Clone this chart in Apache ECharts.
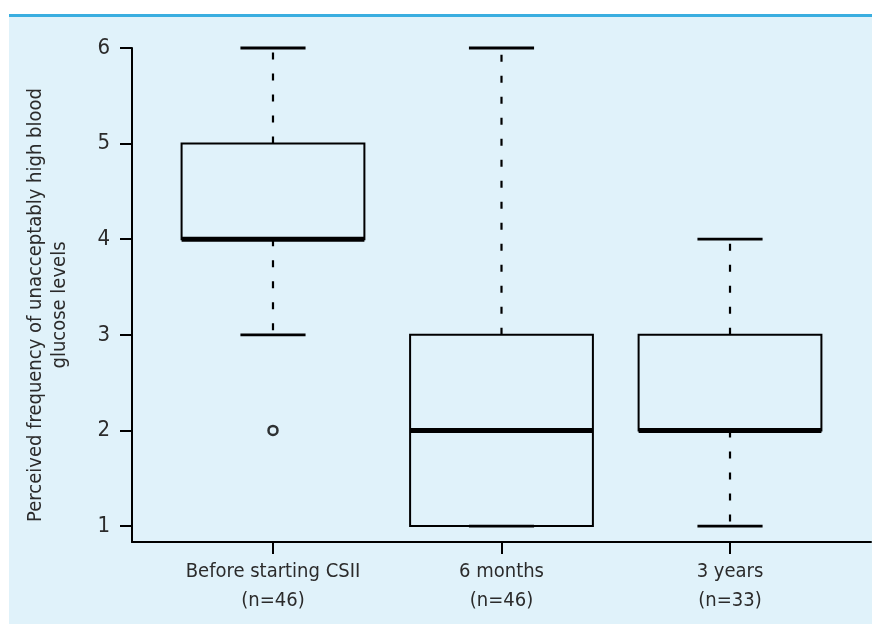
<!DOCTYPE html>
<html>
<head>
<meta charset="utf-8">
<title>Perceived frequency of unacceptably high blood glucose levels</title>
<script src="https://cdn.jsdelivr.net/npm/echarts@6/dist/echarts.min.js"></script>
<style>
  html, body { margin: 0; padding: 0; background: #ffffff; }
  #chart { width: 872px; height: 624px; }
</style>
</head>
<body>
<div id="chart"></div>
<script>
// Groups shown along the x axis (placed at x = 1, 2, 3)
const categories = ['Before starting CSII\n(n=46)', '6 months\n(n=46)', '3 years\n(n=33)'];
const positions = [1, 2, 3];

// Five-number summaries per group
const whiskerLow = [3, 1, 1];
const quartile1 = [4, 1, 2];
const medians = [4, 2, 2];
const quartile3 = [5, 3, 3];
const whiskerHigh = [6, 6, 4];

// Outlying observations: [group position, value]
const outliers = [[1, 2]];

// Y axis tick labels
const yTicks = [1, 2, 3, 4, 5, 6];

const FONT = '"Liberation Sans Narrow", "DejaVu Sans Condensed", "Open Sans", sans-serif';
const INK = '#000000';
const TEXT = '#2b2b2b';

const boxData = positions.map((p, i) => [p, whiskerLow[i], quartile1[i], medians[i], quartile3[i], whiskerHigh[i]]);

const BOX_W = 0.8;     // box width in x-axis units
const CAP_W = 0.285;   // whisker cap width in x-axis units

function renderBox(params, api) {
  const x = api.value(0);
  const lo = api.value(1), q1 = api.value(2), md = api.value(3), q3 = api.value(4), hi = api.value(5);
  const pL = api.coord([x - BOX_W / 2, q3]);
  const pR = api.coord([x + BOX_W / 2, q1]);
  const cL = api.coord([x - CAP_W / 2, hi])[0];
  const cR = api.coord([x + CAP_W / 2, hi])[0];
  const cx = api.coord([x, md])[0];
  const yLo = api.coord([x, lo])[1];
  const yQ1 = api.coord([x, q1])[1];
  const yMd = api.coord([x, md])[1];
  const yQ3 = api.coord([x, q3])[1];
  const yHi = api.coord([x, hi])[1];
  const dash = { stroke: INK, lineWidth: 2.2, lineDash: [7, 14], lineCap: 'butt' };
  const solid = { stroke: INK, lineWidth: 2.8, lineCap: 'butt' };
  const children = [];
  if (yHi !== yQ3) {
    children.push({ type: 'line', shape: { x1: cx, y1: yQ3, x2: cx, y2: yHi }, style: dash });
  }
  if (yLo !== yQ1) {
    children.push({ type: 'line', shape: { x1: cx, y1: yQ1, x2: cx, y2: yLo }, style: dash });
  }
  children.push({ type: 'line', shape: { x1: cL, y1: yHi, x2: cR, y2: yHi }, style: solid });
  children.push({ type: 'line', shape: { x1: cL, y1: yLo, x2: cR, y2: yLo }, style: solid });
  children.push({
    type: 'rect',
    shape: { x: pL[0], y: yQ3, width: pR[0] - pL[0], height: yQ1 - yQ3 },
    style: { fill: 'none', stroke: INK, lineWidth: 2 }
  });
  children.push({ type: 'line', shape: { x1: pL[0], y1: yMd, x2: pR[0], y2: yMd }, style: { stroke: INK, lineWidth: 5, lineCap: 'butt' } });
  return { type: 'group', children: children };
}

const chart = echarts.init(document.getElementById('chart'), null, { renderer: 'canvas' });

chart.setOption({
  animation: false,
  backgroundColor: '#ffffff',
  textStyle: { fontFamily: FONT },
  graphic: [
    { type: 'rect', z: -10, shape: { x: 9, y: 14, width: 863, height: 610 }, style: { fill: '#e0f2fa' } },
    { type: 'rect', z: -9, shape: { x: 9, y: 14, width: 863, height: 3 }, style: { fill: '#3aaee0' } }
  ],
  grid: { left: 132, top: 48, right: 1, bottom: 82, containLabel: false },
  xAxis: {
    type: 'value',
    min: 0.383,
    max: 3.617,
    splitLine: { show: false },
    axisLine: { show: true, onZero: false, lineStyle: { color: INK, width: 2 } },
    axisTick: { show: true, length: 12, customValues: positions, lineStyle: { color: INK, width: 2 } },
    axisLabel: {
      customValues: positions,
      margin: 15,
      color: TEXT,
      fontFamily: FONT,
      fontSize: 20,
      lineHeight: 29,
      formatter: v => categories[positions.indexOf(Math.round(v))] || ''
    }
  },
  yAxis: {
    type: 'value',
    min: 0.833,
    max: 6,
    splitLine: { show: false },
    axisLine: { show: true, onZero: false, lineStyle: { color: INK, width: 2 } },
    axisTick: { show: true, length: 12, customValues: yTicks, lineStyle: { color: INK, width: 2 } },
    axisLabel: { customValues: yTicks, margin: 22, color: TEXT, fontFamily: FONT, fontSize: 22 },
    name: 'Perceived frequency of unacceptably high blood\nglucose levels',
    nameLocation: 'middle',
    nameRotate: 90,
    nameGap: 60,
    nameTextStyle: { color: TEXT, fontFamily: FONT, fontSize: 20, lineHeight: 24, align: 'center', padding: [0, 20, 0, 0] }
  },
  series: [
    {
      type: 'custom',
      renderItem: renderBox,
      encode: { x: 0, y: [1, 2, 3, 4, 5] },
      data: boxData,
      silent: true
    },
    {
      type: 'scatter',
      data: outliers,
      symbol: 'circle',
      symbolSize: 9,
      itemStyle: { color: 'rgba(0,0,0,0)', borderColor: INK, borderWidth: 2.5 },
      silent: true
    }
  ]
});
</script>
</body>
</html>
